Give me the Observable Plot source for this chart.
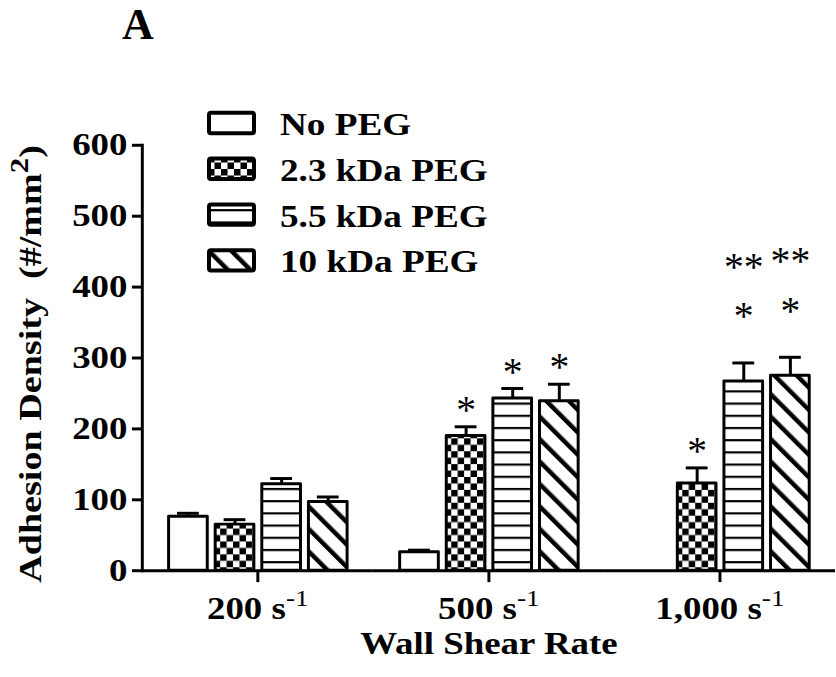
<!DOCTYPE html>
<html><head><meta charset="utf-8">
<script src="https://cdn.jsdelivr.net/npm/d3@7"></script>
<script src="https://cdn.jsdelivr.net/npm/@observablehq/plot@0.6"></script>
<style>
html,body{margin:0;padding:0;background:#fff;overflow:hidden;}
#wrap{position:relative;width:836px;height:677px;overflow:hidden;font-family:"Liberation Serif","Times New Roman",serif;}
#wrap svg text{white-space:pre;}
#panel{position:absolute;left:122px;top:3px;font-size:44px;line-height:44px;font-weight:bold;color:#000;}
#legend{position:absolute;left:0;top:0;pointer-events:none;}
</style></head><body>
<div id="wrap"><div id="panel">A</div></div>
<script>
// ---- data ----
const rates = ["200", "500", "1,000"];
const series = ["No PEG", "2.3 kDa PEG", "5.5 kDa PEG", "10 kDa PEG"];
const meanNoPeg = [76, 26, null];
const mean23 = [65, 190, 123];
const mean55 = [122, 243, 267];
const mean10 = [97, 239, 275];
const errNoPeg = [5, 3, null];
const err23 = [7, 13, 22];
const err55 = [8, 14, 26];
const err10 = [7, 24, 26];
const sigNoPeg = ["", "", ""];
const sig23 = ["", "*", "*"];
const sig55 = ["", "*", "**\n*"];
const sig10 = ["", "*", "**\n*"];
const yTicks = [0, 100, 200, 300, 400, 500, 600];
const yLabel = "Adhesion Density  (#/mm2)";
const xLabel = "Wall Shear Rate";

const means = [meanNoPeg, mean23, mean55, mean10];
const errs = [errNoPeg, err23, err55, err10];
const sigs = [sigNoPeg, sig23, sig55, sig10];
const patternIds = ["pat-none", "pat-check", "pat-hline", "pat-diag"];

const rows = [];
series.forEach((s, i) => rates.forEach((r, j) => {
  rows.push({rate: r, series: s, value: means[i][j], err: errs[i][j], sig: sigs[i][j], pattern: `url(#${patternIds[i]})`});
}));
const bars = rows.filter(d => d.value != null);
bars.forEach(d => d.top = d.value + d.err);
const singles = bars.filter(d => d.sig && !d.sig.includes("\n"));
const stacks = bars.filter(d => d.sig && d.sig.includes("\n"));

// ---- patterns ----
const NS = "http://www.w3.org/2000/svg";
function el(name, attrs, parent) {
  const e = document.createElementNS(NS, name);
  for (const k in attrs) e.setAttribute(k, attrs[k]);
  if (parent) parent.appendChild(e);
  return e;
}
function makeDefs(prefix) {
  const g = el("g", {});
  const defs = el("defs", {}, g);
  let p = el("pattern", {id: prefix + "pat-none", patternUnits: "userSpaceOnUse", width: 10, height: 10}, defs);
  el("rect", {width: 10, height: 10, fill: "#fff"}, p);
  p = el("pattern", {id: prefix + "pat-check", patternUnits: "userSpaceOnUse", width: 13, height: 13}, defs);
  el("rect", {width: 13, height: 13, fill: "#fff"}, p);
  el("rect", {x: 0, y: 0, width: 6.5, height: 6.5, fill: "#000"}, p);
  el("rect", {x: 6.5, y: 6.5, width: 6.5, height: 6.5, fill: "#000"}, p);
  p = el("pattern", {id: prefix + "pat-hline", patternUnits: "userSpaceOnUse", width: 10, height: 12.3}, defs);
  el("rect", {width: 10, height: 12.3, fill: "#fff"}, p);
  el("rect", {x: 0, y: 0, width: 10, height: 2.2, fill: "#000"}, p);
  p = el("pattern", {id: prefix + "pat-diag", patternUnits: "userSpaceOnUse", width: 16, height: 16, patternTransform: "rotate(-45)"}, defs);
  el("rect", {width: 16, height: 16, fill: "#fff"}, p);
  el("rect", {x: 0, y: 0, width: 4.5, height: 16, fill: "#000"}, p);
  return g;
}

const FONT = '"Liberation Serif", "Times New Roman", serif';
const chart = Plot.plot({
  width: 843, height: 677,
  marginLeft: 142, marginRight: 0, marginTop: 146, marginBottom: 102,
  style: {fontFamily: FONT, fontSize: "31px", fontWeight: "bold", color: "#000", background: "transparent", overflow: "visible"},
  fx: {domain: rates, padding: 0},
  x: {domain: series, paddingInner: 0.18, paddingOuter: 0.56, axis: null},
  y: {domain: [0, 600]},
  color: {type: "identity"},
  marks: [
    () => makeDefs(""),
    Plot.barY(bars, {fx: "rate", x: "series", y: "value", fill: "pattern", stroke: "#000", strokeWidth: 3, strokeLinejoin: "round"}),
    Plot.ruleX(bars, {fx: "rate", x: "series", y1: "value", y2: "top", stroke: "#000", strokeWidth: 3}),
    Plot.tickY(bars, {fx: "rate", x: "series", y: "top", stroke: "#000", strokeWidth: 3, insetLeft: 8.5, insetRight: 8.5}),
    Plot.text(singles, {fx: "rate", x: "series", y: "top", text: "sig", lineAnchor: "bottom", dy: -4, fontSize: 40, fontWeight: "normal"}),
    Plot.text(stacks, {fx: "rate", x: "series", y: "top", text: "sig", lineAnchor: "bottom", lineHeight: 1.25, dy: -34, fontSize: 40, fontWeight: "normal"}),
    Plot.ruleY([0], {stroke: "#000", strokeWidth: 3}),
    Plot.frame({anchor: "left", facetAnchor: "left", stroke: "#000", strokeWidth: 3}),
    Plot.axisY({ticks: yTicks, tickSize: 10, tickPadding: 5, strokeWidth: 3, label: yLabel, labelAnchor: "center", labelOffset: 124, labelArrow: "none"}),
    Plot.axisFx({anchor: "bottom", tickSize: 12, tickPadding: 15, strokeWidth: 3, tickFormat: d => d + " s-1", label: xLabel, labelAnchor: "center", labelOffset: 84})
  ]
});
const wrap = document.getElementById("wrap");
wrap.insertBefore(chart, wrap.firstChild);

// ---- legend ----
const leg = el("svg", {id: "legend", width: 836, height: 677});
leg.appendChild(makeDefs("lg-"));
series.forEach((s, i) => {
  const cy = 123 + i * 45.8;
  el("rect", {x: 209, y: cy - 10.2, width: 45, height: 20.4, rx: 2, fill: `url(#lg-${patternIds[i]})`, stroke: "#000", "stroke-width": 4}, leg);
  const t = el("text", {x: 280, y: cy + 12, "font-family": FONT, "font-size": 31, "font-weight": "bold", fill: "#000"}, leg);
  t.textContent = s;
});
wrap.appendChild(leg);

// ---- superscripts ----
function sup(t, base, supText, shift, size, weight, tail) {
  t.textContent = base;
  const a = el("tspan", {dy: -shift, "font-size": size, "font-weight": weight}, t);
  a.textContent = supText;
  if (tail) { const b = el("tspan", {dy: shift}, t); b.textContent = tail; }
}
let yLabelEl = null;
chart.querySelectorAll("text").forEach(t => {
  const s = t.textContent;
  if (/ s-1$/.test(s)) sup(t, s.replace(/-1$/, ""), "-1", 13, 23, "normal");
  else if (s === yLabel) { sup(t, s.replace(/2\)$/, ""), "2", 13, 25, "bold", ")"); yLabelEl = t; }
});

// ---- horizontal stretch of the bold serif labels ----
function stretch(t, s, shift) {
  const x = parseFloat(t.getAttribute("x")) || 0;
  const tr = t.getAttribute("transform") || "";
  t.setAttribute("transform", `${tr} translate(${x + shift},0) scale(${s},1) translate(${-x},0)`);
}
[...chart.querySelectorAll("text"), ...leg.querySelectorAll("text")].forEach(t => {
  if (/^\*/.test(t.textContent)) return;
  if (t === yLabelEl) stretch(t, 1.24, -6);
  else stretch(t, 1.2, 0);
});
</script>
</body></html>
